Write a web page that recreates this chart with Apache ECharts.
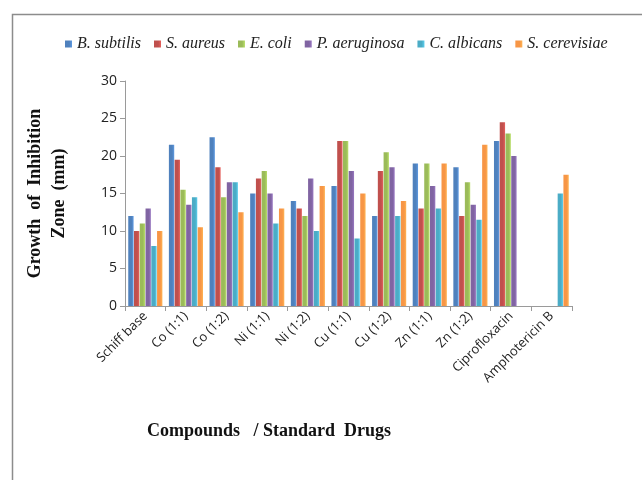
<!DOCTYPE html>
<html>
<head>
<meta charset="utf-8">
<script src="https://cdn.jsdelivr.net/npm/echarts@6/dist/echarts.min.js"></script>
<style>
html,body{margin:0;padding:0;background:#fff;}
#chart{width:642px;height:480px;}
</style>
</head>
<body>
<div id="chart"></div>
<script>
var categories = ['Schiff base','Co (1:1)','Co (1:2)','Ni (1:1)','Ni (1:2)','Cu (1:1)','Cu (1:2)','Zn (1:1)','Zn (1:2)','Ciprofloxacin','Amphotericin B'];
var seriesNames = ['B. subtilis','S. aureus','E. coli','P. aeruginosa','C. albicans','S. cerevisiae'];
var bSubtilis    = [12, 21.5, 22.5, 15, 14, 16, 12, 19, 18.5, 22, null];
var sAureus      = [10, 19.5, 18.5, 17, 13, 22, 18, 13, 12, 24.5, null];
var eColi        = [11, 15.5, 14.5, 18, 12, 22, 20.5, 19, 16.5, 23, null];
var pAeruginosa  = [13, 13.5, 16.5, 15, 17, 18, 18.5, 16, 13.5, 20, null];
var cAlbicans    = [8, 14.5, 16.5, 11, 10, 9, 12, 13, 11.5, null, 15];
var sCerevisiae  = [10, 10.5, 12.5, 13, 16, 15, 14, 19, 21.5, null, 17.5];
var yTicks = [0, 5, 10, 15, 20, 25, 30];

var values = [bSubtilis, sAureus, eColi, pAeruginosa, cAlbicans, sCerevisiae];
var colors = ['#4F81BD','#C0504D','#9BBB59','#8064A2','#4BACC6','#F79646'];

var chart = echarts.init(document.getElementById('chart'));
var series = seriesNames.map(function(n, i){
  return {
    name: n, type: 'bar', data: values[i],
    barGap: '8%', barCategoryGap: '16%',
    itemStyle: {color: new echarts.graphic.LinearGradient(0,0,1,0,[
      {offset:0, color: colors[i]},
      {offset:0.6, color: colors[i]},
      {offset:1, color: echarts.color.lift(colors[i], -0.2)}
    ])}
  };
});

chart.setOption({
  backgroundColor: '#fff',
  animation: false,
  color: colors,
  legend: {
    top: 31, left: 60,
    itemWidth: 7, itemHeight: 7, itemGap: 13,
    icon: 'rect',
    textStyle: {fontFamily: 'Liberation Serif', fontStyle: 'italic', fontSize: 16, color: '#222'},
    data: seriesNames
  },
  grid: {left: 125, right: 70, top: 81, bottom: 174, containLabel: false},
  xAxis: {
    type: 'category', data: categories,
    axisLine: {lineStyle: {color: '#9a9a9a'}},
    axisTick: {show: true, lineStyle: {color: '#9a9a9a'}},
    axisLabel: {rotate: 45, interval: 0, fontFamily: 'Open Sans', fontSize: 13, color: '#222', margin: 8}
  },
  yAxis: {
    type: 'value', min: yTicks[0], max: yTicks[yTicks.length-1], interval: 5,
    name: 'Growth  of  Inhibition\nZone  (mm)',
    nameLocation: 'middle', nameGap: 54, nameRotate: 90,
    nameTextStyle: {fontFamily: 'Liberation Serif', fontWeight: 'bold', fontSize: 18, color: '#111', lineHeight: 24},
    axisLine: {show: true, lineStyle: {color: '#9a9a9a'}},
    axisTick: {show: true, lineStyle: {color: '#9a9a9a'}},
    splitLine: {show: false},
    axisLabel: {fontFamily: 'Open Sans', fontSize: 14, color: '#222', margin: 8}
  },
  graphic: [
    {type: 'polyline', shape: {points: [[12.5, 480], [12.5, 14.5], [642, 14.5]]}, style: {stroke: '#8c8c8c', lineWidth: 1.5, fill: null}, silent: true},
    {type: 'text', left: 147, top: 422, style: {text: 'Compounds   / Standard  Drugs', font: 'bold 18px "Liberation Serif"', fill: '#111'}}
  ],
  series: series
});
</script>
</body>
</html>
